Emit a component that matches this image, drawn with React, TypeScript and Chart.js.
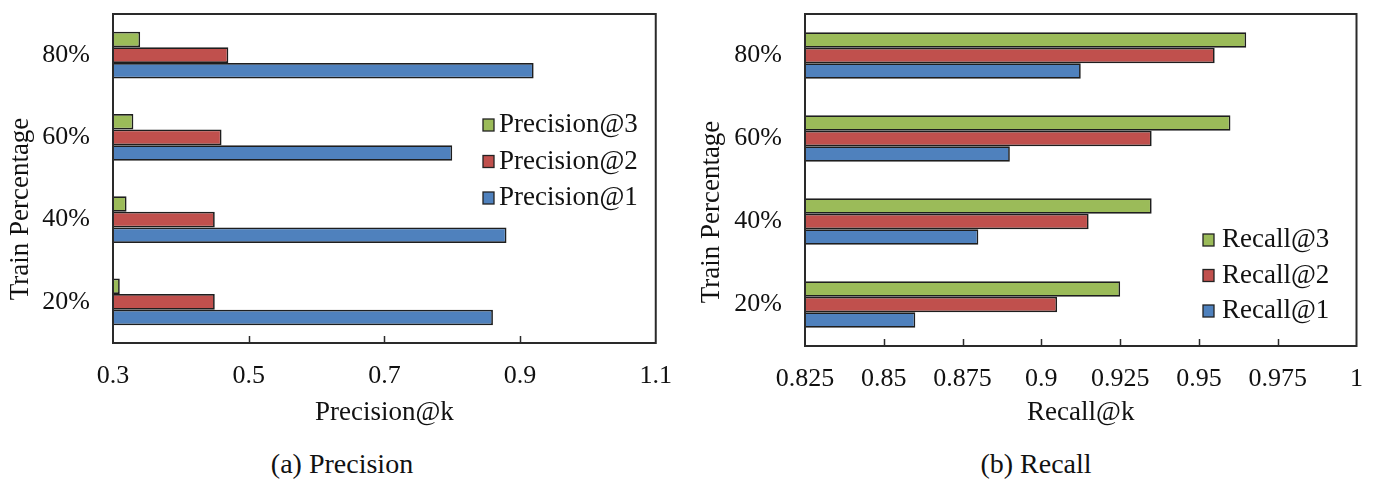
import React, { useEffect, useRef } from "react";
import { Chart, registerables } from "chart.js";

Chart.register(...registerables);

const categories = ["80%", "60%", "40%", "20%"];

const precision3 = [0.34, 0.33, 0.32, 0.31];
const precision2 = [0.47, 0.46, 0.45, 0.45];
const precision1 = [0.92, 0.8, 0.88, 0.86];

const recall3 = [0.965, 0.96, 0.935, 0.925];
const recall2 = [0.955, 0.935, 0.915, 0.905];
const recall1 = [0.9125, 0.89, 0.88, 0.86];

const precisionTicks = [0.3, 0.5, 0.7, 0.9, 1.1];
const precisionTickLabels = ["0.3", "0.5", "0.7", "0.9", "1.1"];
const recallTicks = [0.825, 0.85, 0.875, 0.9, 0.925, 0.95, 0.975, 1];
const recallTickLabels = ["0.825", "0.85", "0.875", "0.9", "0.925", "0.95", "0.975", "1"];

const Y_TITLE = "Train Percentage";

const GREEN = "#9BBB59";
const RED = "#C0504D";
const BLUE = "#4F81BD";
const FONT = "'Liberation Serif', 'Times New Roman', serif";

const framePlugin = {
  id: "frame",
  afterDatasetsDraw(chart: any, _args: any, opts: any) {
    const { ctx, chartArea: a } = chart;
    const xs = chart.scales.x;
    ctx.save();
    ctx.strokeStyle = "#2a2a2a";
    ctx.lineWidth = 2;
    ctx.strokeRect(a.left, a.top, a.right - a.left, a.bottom - a.top);
    ctx.lineWidth = 1.5;
    xs.ticks.forEach((t: any, i: number) => {
      if (i === 0 || i === xs.ticks.length - 1) return;
      const px = Math.round(xs.getPixelForValue(t.value)) + 0.5;
      ctx.beginPath();
      ctx.moveTo(px, a.bottom);
      ctx.lineTo(px, a.bottom - 7);
      ctx.stroke();
    });
    const lg = opts.legend;
    chart.data.datasets.forEach((ds: any, i: number) => {
      const y = lg.y + i * lg.gap;
      ctx.fillStyle = ds.backgroundColor;
      ctx.fillRect(lg.x, y - 6, 11, 12);
      ctx.strokeStyle = "#222";
      ctx.lineWidth = 1.3;
      ctx.strokeRect(lg.x, y - 6, 11, 12);
      ctx.fillStyle = "#111";
      ctx.font = "27px " + FONT;
      ctx.textBaseline = "middle";
      ctx.textAlign = "left";
      ctx.fillText(ds.label, lg.textX, y);
    });
    // y-axis title
    const yt = opts.yTitle;
    ctx.translate(yt.x, yt.y);
    ctx.rotate(-Math.PI / 2);
    ctx.fillStyle = "#111";
    ctx.font = "27px " + FONT;
    ctx.textAlign = "center";
    ctx.textBaseline = "middle";
    ctx.fillText(yt.text, 0, 0);
    ctx.restore();
  },
};

type PanelProps = {
  left: number;
  width: number;
  labels: string[];
  series: { label: string; data: number[]; color: string }[];
  xTicks: number[];
  xTickLabels: string[];
  xTitle: string;
  area: { left: number; right: number; bottom: number };
  catPct: number;
  legend: { x: number; textX: number; y: number; gap: number };
  yTitlePos: { x: number; y: number };
  caption: string;
  captionCenter: number;
};

function Panel(p: PanelProps) {
  const ref = useRef<HTMLCanvasElement>(null);
  useEffect(() => {
    if (!ref.current) return;
    const H = 440;
    const titleCenter = 413;
    const xAxisBottom = Math.round(titleCenter + 16.2);
    const chart = new Chart(ref.current, {
      type: "bar",
      data: {
        labels: p.labels,
        datasets: p.series.map((s) => ({
          label: s.label,
          data: s.data,
          backgroundColor: s.color,
          borderColor: "#1e1e1e",
          borderWidth: 1.7,
          borderSkipped: false,
          categoryPercentage: p.catPct,
          barPercentage: 1,
        })),
      },
      options: {
        indexAxis: "y",
        animation: false,
        responsive: false,
        layout: {
          padding: { top: 14, left: 0, right: p.width - p.area.right, bottom: H - xAxisBottom },
        },
        plugins: {
          legend: { display: false },
          tooltip: { enabled: false },
          frame: { legend: p.legend, yTitle: { ...p.yTitlePos, text: Y_TITLE } },
        } as any,
        scales: {
          x: {
            type: "linear",
            min: p.xTicks[0],
            max: p.xTicks[p.xTicks.length - 1],
            afterBuildTicks: (scale: any) => {
              scale.ticks = p.xTicks.map((v) => ({ value: v }));
            },
            afterFit: (scale: any) => {
              scale.height = xAxisBottom - p.area.bottom;
            },
            grid: { display: false, drawTicks: false },
            border: { display: false },
            ticks: {
              padding: 18,
              color: "#111",
              font: { family: FONT, size: 26 },
              maxRotation: 0,
              autoSkip: false,
              callback: (_v: any, i: number) => p.xTickLabels[i],
            },
            title: {
              display: true,
              text: p.xTitle,
              color: "#111",
              font: { family: FONT, size: 27 },
              padding: { top: 0, bottom: 0 },
            },
          },
          y: {
            type: "category",
            afterFit: (scale: any) => {
              scale.width = p.area.left;
              scale.paddingTop = 0;
              scale.paddingBottom = 0;
            },
            grid: { display: false, drawTicks: false },
            border: { display: false },
            ticks: {
              padding: 23,
              color: "#111",
              font: { family: FONT, size: 26 },
            },
            title: { display: false },
          },
        },
      },
      plugins: [framePlugin],
    } as any);
    return () => chart.destroy();
  }, []);
  return (
    <>
      <canvas
        ref={ref}
        width={p.width}
        height={440}
        style={{ position: "absolute", left: p.left, top: 0, width: p.width, height: 440 }}
      />
      <div
        style={{
          position: "absolute",
          left: p.captionCenter - 200,
          width: 400,
          top: 447,
          textAlign: "center",
          fontFamily: FONT,
          fontSize: 28,
          lineHeight: "34px",
          color: "#111",
        }}
      >
        {p.caption}
      </div>
    </>
  );
}

export default function App() {
  return (
    <div
      style={{
        position: "absolute",
        left: 0,
        top: 0,
        width: 1381,
        height: 480,
        background: "#fff",
        overflow: "hidden",
      }}
    >
      <Panel
        left={0}
        width={690}
        labels={categories}
        series={[
          { label: "Precision@3", data: precision3, color: GREEN },
          { label: "Precision@2", data: precision2, color: RED },
          { label: "Precision@1", data: precision1, color: BLUE },
        ]}
        xTicks={precisionTicks}
        xTickLabels={precisionTickLabels}
        xTitle="Precision@k"
        area={{ left: 113, right: 656, bottom: 343 }}
        catPct={0.57}
        legend={{ x: 483, textX: 499, y: 125, gap: 36.5 }}
        yTitlePos={{ x: 21, y: 209 }}
        caption="(a) Precision"
        captionCenter={342}
      />
      <Panel
        left={690}
        width={691}
        labels={categories}
        series={[
          { label: "Recall@3", data: recall3, color: GREEN },
          { label: "Recall@2", data: recall2, color: RED },
          { label: "Recall@1", data: recall1, color: BLUE },
        ]}
        xTicks={recallTicks}
        xTickLabels={recallTickLabels}
        xTitle="Recall@k"
        area={{ left: 115, right: 671, bottom: 346 }}
        catPct={0.56}
        legend={{ x: 513, textX: 532, y: 240, gap: 35.5 }}
        yTitlePos={{ x: 22, y: 212 }}
        caption="(b) Recall"
        captionCenter={1036}
      />
    </div>
  );
}
